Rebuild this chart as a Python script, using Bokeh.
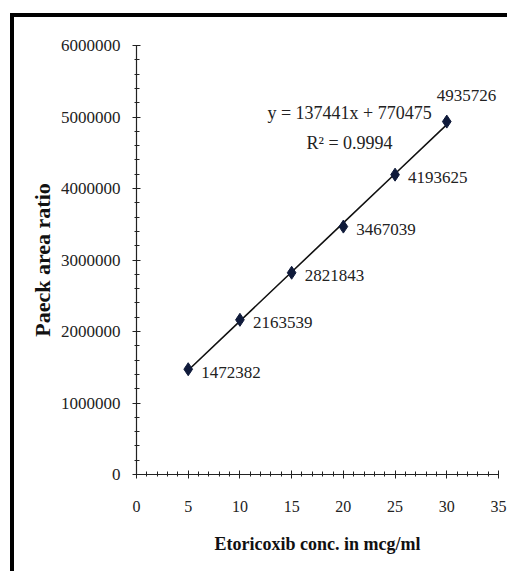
from bokeh.plotting import figure
from bokeh.models import (ColumnDataSource, SingleIntervalTicker, BasicTickFormatter,
                          LabelSet, Label)
from bokeh.embed import file_html
from bokeh.resources import INLINE

# ---- data ----
conc = [5, 10, 15, 20, 25, 30]
area = [1472382, 2163539, 2821843, 3467039, 4193625, 4935726]
area_labels = ["1472382", "2163539", "2821843", "3467039", "4193625", "4935726"]
slope = 137441
intercept = 770475
eq_text = "y = 137441x + 770475"
r2_text = "R\u00b2 = 0.9994"
x_title = "Etoricoxib conc. in mcg/ml"
y_title = "Paeck area ratio"

FONT = "Liberation Serif"
TXT = "#222222"

p = figure(width=507, height=571, output_backend="svg", toolbar_location=None,
           x_range=(0, 35), y_range=(0, 6000000),
           min_border_left=136, min_border_right=9, min_border_top=45, min_border_bottom=97)
p.outline_line_color = None
p.xgrid.visible = False
p.ygrid.visible = False
p.background_fill_color = "white"
p.border_fill_color = None
p.styles = {"background": "linear-gradient(#000,#000) 10px 13px / 4px 100% no-repeat, "
                          "linear-gradient(#000,#000) 10px 13px / 100% 4px no-repeat, #ffffff"}

# axes
xa = p.xaxis[0]
ya = p.yaxis[0]
xa.ticker = SingleIntervalTicker(interval=5, num_minor_ticks=5)
ya.ticker = SingleIntervalTicker(interval=1000000, num_minor_ticks=5)
ya.formatter = BasicTickFormatter(use_scientific=False)
for ax in (xa, ya):
    ax.axis_line_color = "#222222"
    ax.axis_line_width = 1.2
    ax.major_tick_line_color = "#222222"
    ax.minor_tick_line_color = "#222222"
    ax.major_tick_in = 4
    ax.major_tick_out = 4
    ax.minor_tick_in = 3
    ax.minor_tick_out = 2
    ax.major_label_text_font = FONT
    ax.major_label_text_color = TXT
    ax.axis_label_text_font = FONT
    ax.axis_label_text_font_style = "bold"
    ax.axis_label_text_color = "#111111"
ya.major_label_text_font_size = "17px"
xa.major_label_text_font_size = "16px"
ya.major_label_standoff = 12
xa.major_label_standoff = 22
xa.axis_label = x_title
ya.axis_label = y_title
xa.axis_label_text_font_size = "18px"
ya.axis_label_text_font_size = "22px"
xa.axis_label_standoff = 19
ya.axis_label_standoff = 3

# trendline
fit = [slope * c + intercept for c in conc]
p.line(conc, fit, line_color="#111111", line_width=1.6)

src = ColumnDataSource(dict(x=conc, y=area, lab=area_labels,
                            dx=[13, 13, 13, 13, 13, -10],
                            dy=[-3, -3, -3, -3, -3, 26]))
p.scatter("x", "y", source=src, marker="diamond", size=13,
          fill_color="#0f1a3a", line_color="#0f1a3a")

labels = LabelSet(x="x", y="y", text="lab", source=src, x_offset="dx", y_offset="dy",
                  text_font=FONT, text_font_size="17px", text_color=TXT,
                  text_baseline="middle", text_align="left")
p.add_layout(labels)

p.add_layout(Label(x=20.6, y=5056000, text=eq_text, text_font=FONT, text_font_size="18px",
                   text_color=TXT, text_align="center", text_baseline="middle"))
p.add_layout(Label(x=20.6, y=4636000, text=r2_text, text_font=FONT, text_font_size="18px",
                   text_color=TXT, text_align="center", text_baseline="middle"))

open("out.html", "w").write(file_html(p, INLINE))
